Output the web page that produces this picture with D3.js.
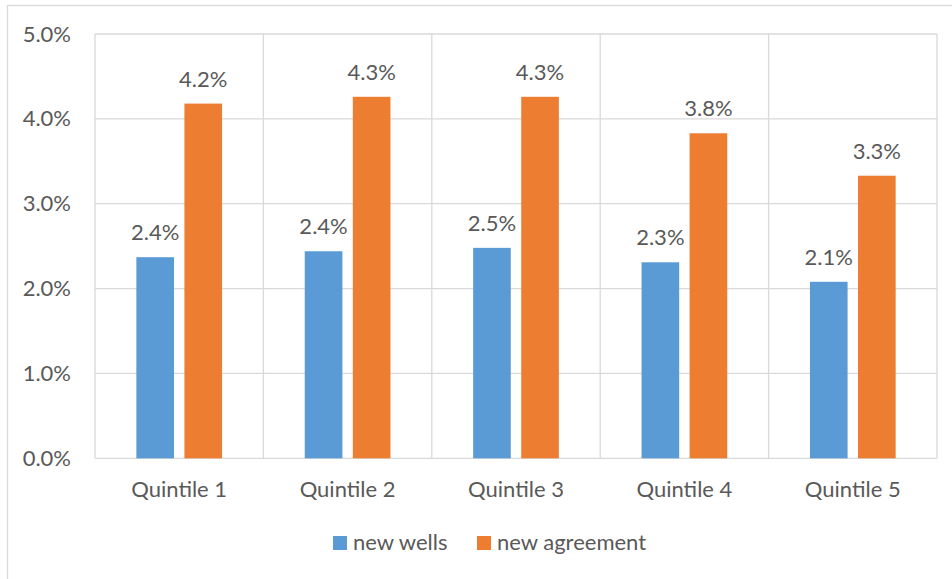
<!DOCTYPE html>
<html>
<head>
<meta charset="utf-8">
<script src="https://cdn.jsdelivr.net/npm/d3@7"></script>
<style>
  html, body { margin: 0; padding: 0; background: #fff; }
  svg { display: block; }
  text { font-family: Lato, "Open Sans", sans-serif; fill: #595959; }
</style>
</head>
<body>
<svg id="chart" width="952" height="579"></svg>
<script>
// Share of each quintile, by series
const categories = ["Quintile 1", "Quintile 2", "Quintile 3", "Quintile 4", "Quintile 5"];
const seriesNames = ["new wells", "new agreement"];
const newWells = [0.0237, 0.0244, 0.0248, 0.0231, 0.0208];
const newAgreement = [0.0418, 0.0426, 0.0426, 0.0383, 0.0333];
const yTicks = [0, 0.01, 0.02, 0.03, 0.04, 0.05];
const colors = ["#5b9bd5", "#ed7d31"];

const seriesValues = [newWells, newAgreement];
const svg = d3.select("#chart");
const W = 952, H = 579;
const plot = { left: 95, right: 937, top: 34, bottom: 458.3 };
const fontSize = "22px";

// outer chart frame (extends past the right and bottom edges)
svg.append("rect")
  .attr("x", 7.5).attr("y", 5.5)
  .attr("width", W + 10).attr("height", H + 10)
  .attr("fill", "none").attr("stroke", "#d9d9d9").attr("stroke-width", 1.3);

const x = d3.scaleBand().domain(categories).range([plot.left, plot.right]);
const xInner = d3.scaleBand().domain(seriesNames)
  .range([0, x.bandwidth()]).paddingInner(0.217).paddingOuter(0.86);
const y = d3.scaleLinear().domain([0, 0.05]).range([plot.bottom, plot.top]);
const pct = d3.format(".1%");

// horizontal gridlines
svg.append("g").selectAll("line").data(yTicks).join("line")
  .attr("x1", plot.left).attr("x2", plot.right)
  .attr("y1", d => y(d)).attr("y2", d => y(d))
  .attr("stroke", "#d9d9d9").attr("stroke-width", 1.3);

// vertical gridlines between categories
const xEdges = categories.map(c => x(c)).concat([x(categories[categories.length - 1]) + x.bandwidth()]);
svg.append("g").selectAll("line").data(xEdges).join("line")
  .attr("x1", d => d).attr("x2", d => d)
  .attr("y1", plot.top).attr("y2", plot.bottom)
  .attr("stroke", "#d9d9d9").attr("stroke-width", 1.3);

// y axis labels
const yAxis = d3.axisLeft(y).tickValues(yTicks).tickFormat(pct).tickSize(0).tickPadding(24);
const gy = svg.append("g").attr("transform", `translate(${plot.left},0)`).call(yAxis);
gy.select(".domain").remove();
gy.selectAll("text").style("font-size", fontSize).attr("fill", "#595959")
  .style("font-family", "Lato, 'Open Sans', sans-serif");

// x axis labels
const xAxis = d3.axisBottom(x).tickSize(0).tickPadding(23);
const gx = svg.append("g").attr("transform", `translate(0,${plot.bottom})`).call(xAxis);
gx.select(".domain").remove();
gx.selectAll("text").style("font-size", fontSize).attr("fill", "#595959")
  .style("font-family", "Lato, 'Open Sans', sans-serif");

// bars and value labels
const groups = svg.append("g").selectAll("g").data(categories).join("g")
  .attr("transform", c => `translate(${x(c)},0)`);

seriesNames.forEach((s, si) => {
  groups.append("rect")
    .attr("x", xInner(s))
    .attr("width", xInner.bandwidth())
    .attr("y", (c, i) => y(seriesValues[si][i]))
    .attr("height", (c, i) => y(0) - y(seriesValues[si][i]))
    .attr("fill", colors[si]);
  groups.append("text")
    .attr("x", xInner(s) + xInner.bandwidth() / 2)
    .attr("y", (c, i) => y(seriesValues[si][i]) - 17)
    .attr("text-anchor", "middle")
    .style("font-size", fontSize)
    .text((c, i) => pct(seriesValues[si][i]));
});

// legend
const legendItems = [{ name: seriesNames[0], x: 333 }, { name: seriesNames[1], x: 477 }];
const lg = svg.append("g").selectAll("g").data(legendItems).join("g")
  .attr("transform", d => `translate(${d.x},536)`);
lg.append("rect").attr("width", 14).attr("height", 14)
  .attr("fill", (d, i) => colors[i]);
lg.append("text").attr("x", 20).attr("y", 13.5)
  .style("font-size", fontSize).text(d => d.name);
</script>
</body>
</html>
